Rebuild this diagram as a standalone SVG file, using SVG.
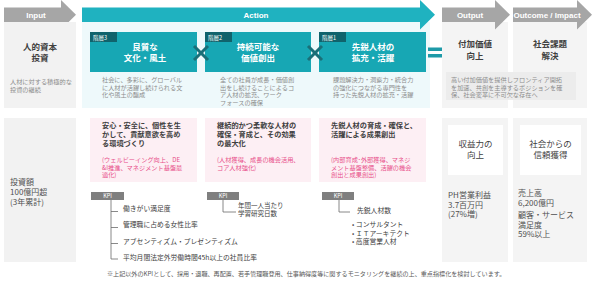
<svg xmlns="http://www.w3.org/2000/svg" width="593" height="282" viewBox="0 0 593 282">
<style>
text{font-family:"Noto Sans CJK JP","Liberation Sans",sans-serif;}
.hd{font-family:"Liberation Sans",sans-serif;font-weight:bold;font-size:8px;fill:#fff;text-anchor:middle;}
.ttl{font-size:8.5px;font-weight:bold;fill:#404040;text-anchor:middle;}
.wt{font-size:8.5px;font-weight:bold;fill:#fff;text-anchor:middle;}
.tab{font-size:5.5px;fill:#fff;}
.ds{font-size:6.2px;fill:#8c8c8c;}
.pm{font-size:7.2px;font-weight:bold;fill:#404040;}
.pk{font-size:6.2px;fill:#e8508a;}
.kp{font-size:6.8px;fill:#404040;}
.bd{font-size:8px;fill:#505050;}
.ln{stroke:#6b6b6b;stroke-width:0.8;fill:none;}
.x{stroke:#1a6f78;stroke-width:3;stroke-linecap:butt;}
</style>

<g id="input">
<path d="M4,7.5 H61 V0 L76,14.75 L61,29.5 V22 H4 Z" fill="#a6a6a6"/>
<text class="hd" x="36" y="17.5">Input</text>
<rect x="4" y="22" width="72" height="86" fill="#f2f2f2"/>
<text class="ttl" x="40" y="50">人的資本</text>
<text class="ttl" x="40" y="61">投資</text>
<text class="ds" x="10" y="84">人材に対する積極的な</text>
<text class="ds" x="10" y="92">投資の継続</text>
<rect x="4" y="118" width="72" height="144" fill="#f2f2f2"/>
<text class="bd" x="10" y="185">投資額</text>
<text class="bd" x="10" y="195">100億円超</text>
<text class="bd" x="10" y="205">(3年累計)</text>
</g>

<g id="action">
<rect x="82" y="22" width="348" height="86" fill="#eef9fb"/>
<path d="M82,7.5 H420 V0 L435,14.75 L420,29.5 V22 H82 Z" fill="#1fb2c0"/>
<text class="hd" x="256" y="17.5">Action</text>
</g>

<g id="level3">
<rect x="90" y="32" width="107" height="40" fill="#17a7b4"/>
<rect x="90" y="32" width="27" height="10" fill="#10636c"/>
<text class="tab" x="93" y="39.5">階層3</text>
<text class="wt" x="145" y="49.5">良質な</text>
<text class="wt" x="145" y="60.5">文化・風土</text>
<text class="ds" x="102" y="82">社会に、多彩に、グローバル</text>
<text class="ds" x="102" y="89.5">に人材が活躍し続けられる文</text>
<text class="ds" x="102" y="97">化や風土の醸成</text>
</g>

<g id="level2">
<rect x="205" y="32" width="106" height="40" fill="#17a7b4"/>
<rect x="205" y="32" width="27" height="10" fill="#10636c"/>
<text class="tab" x="208" y="39.5">階層2</text>
<text class="wt" x="258" y="49.5">持続可能な</text>
<text class="wt" x="258" y="60.5">価値創出</text>
<text class="ds" x="220" y="82">全ての社員が成長・価値創</text>
<text class="ds" x="220" y="89.5">出をし続けることによるコ</text>
<text class="ds" x="220" y="97">ア人材の拡充、ワーク</text>
<text class="ds" x="220" y="104.5">フォースの確保</text>
</g>

<g id="level1">
<rect x="319" y="32" width="107" height="40" fill="#17a7b4"/>
<rect x="319" y="32" width="27" height="10" fill="#10636c"/>
<text class="tab" x="322" y="39.5">階層1</text>
<text class="wt" x="373" y="49.5">先鋭人材の</text>
<text class="wt" x="373" y="60.5">拡充・活躍</text>
<text class="ds" x="333" y="82">課題解決力・洞察力・統合力</text>
<text class="ds" x="333" y="89.5">の強化につながる専門性を</text>
<text class="ds" x="333" y="97">持った先鋭人材の拡充・活躍</text>
</g>

<g id="operators">
<line class="x" x1="194" y1="46" x2="208" y2="60"/>
<line class="x" x1="208" y1="46" x2="194" y2="60"/>
<line class="x" x1="308" y1="46" x2="322" y2="60"/>
<line class="x" x1="322" y1="46" x2="308" y2="60"/>
<rect x="428" y="47.5" width="18" height="3.5" fill="#1e9aa8"/>
<rect x="428" y="54" width="18" height="3.5" fill="#1e9aa8"/>
</g>

<g id="output">
<rect x="442" y="22" width="66" height="86" fill="#f4f4f4"/>
<path d="M442,7.5 H495 V0 L510,14.75 L495,29.5 V22 H442 Z" fill="#a6a6a6"/>
<text class="hd" x="470" y="17.5">Output</text>
<text class="ttl" x="475" y="47">付加価値</text>
<text class="ttl" x="475" y="59">向上</text>
<rect x="442" y="118" width="66" height="144" fill="#f4f4f4"/>
<rect x="448" y="125" width="55" height="50" fill="#ffffff"/>
<text class="ttl" x="475.5" y="147" style="font-weight:normal">収益力の</text>
<text class="ttl" x="475.5" y="158" style="font-weight:normal">向上</text>
<text class="bd" x="448" y="198">PH営業利益</text>
<text class="bd" x="448" y="207.5">3.7百万円</text>
<text class="bd" x="448" y="217">(27%増)</text>
</g>

<g id="outcome">
<rect x="513" y="22" width="74" height="86" fill="#f4f4f4"/>
<path d="M513,7.5 H577 V0 L592,14.75 L577,29.5 V22 H513 Z" fill="#a6a6a6"/>
<text class="hd" x="547" y="17.5">Outcome / Impact</text>
<text class="ttl" x="550" y="47">社会課題</text>
<text class="ttl" x="550" y="59">解決</text>
<rect x="513" y="118" width="74" height="144" fill="#f4f4f4"/>
<rect x="520" y="125" width="61" height="50" fill="#ffffff"/>
<text class="ttl" x="550.5" y="147" style="font-weight:normal">社会からの</text>
<text class="ttl" x="550.5" y="158" style="font-weight:normal">信頼獲得</text>
<text class="bd" x="518" y="196">売上高</text>
<text class="bd" x="518" y="206">6,200億円</text>
<text class="bd" x="518" y="218">顧客・サービス</text>
<text class="bd" x="518" y="227.5">満足度</text>
<text class="bd" x="518" y="237">59%以上</text>
</g>

<g id="output-note">
<rect x="446" y="72" width="130" height="28" fill="#ececec"/>
<text class="ds" x="451" y="82">高い付加価値を提供しフロンティア開拓</text>
<text class="ds" x="451" y="89.5">を加速、共創を主導するポジションを確</text>
<text class="ds" x="451" y="97">保、社会変革に不可欠な存在へ</text>
</g>

<g id="measure3">
<rect x="90" y="118" width="107" height="64" fill="#fdeff4"/>
<text class="pm" x="102" y="127.5">安心・安全に、個性を生</text>
<text class="pm" x="102" y="136.5">かして、貢献意欲を高め</text>
<text class="pm" x="102" y="145.5">る環境づくり</text>
<text class="pk" x="102" y="162">(ウェルビーイング向上、DE</text>
<text class="pk" x="102" y="169.5">&amp;I推進、マネジメント基盤最</text>
<text class="pk" x="102" y="177">適化)</text>
</g>

<g id="measure2">
<rect x="205" y="118" width="106" height="64" fill="#fdeff4"/>
<text class="pm" x="217" y="127.5">継続的かつ柔軟な人材の</text>
<text class="pm" x="217" y="136.5">確保・育成と、その効果</text>
<text class="pm" x="217" y="145.5">の最大化</text>
<text class="pk" x="217" y="162">(人材獲得、成長の機会活用、</text>
<text class="pk" x="217" y="169.5">コア人材強化)</text>
</g>

<g id="measure1">
<rect x="319" y="118" width="107" height="64" fill="#fdeff4"/>
<text class="pm" x="331" y="127.5">先鋭人材の育成・確保と、</text>
<text class="pm" x="331" y="136.5">活躍による成果創出</text>
<text class="pk" x="331" y="162">(内部育成･外部獲得、マネジ</text>
<text class="pk" x="331" y="169.5">メント基盤整備、活躍の機会</text>
<text class="pk" x="331" y="177">創出と成果創出)</text>
</g>

<g id="kpi3">
<rect x="91" y="192" width="33" height="8" fill="#7f7f7f"/>
<text class="tab" x="107.5" y="198.3" text-anchor="middle">KPI</text>
<text class="kp" x="123" y="211">働きがい満足度</text>
<text class="kp" x="123" y="227">管理職に占める女性比率</text>
<text class="kp" x="123" y="243.5">アブセンティズム・プレゼンティズム</text>
<text class="kp" x="123" y="260">平均月間法定外労働時間45h以上の社員比率</text>
</g>

<g id="kpi2">
<rect x="207" y="192" width="32" height="8" fill="#7f7f7f"/>
<text class="tab" x="223" y="198.3" text-anchor="middle">KPI</text>
<text class="kp" x="238" y="207.5" style="font-size:6.5px">年間一人当たり</text>
<text class="kp" x="238" y="216" style="font-size:6.5px">学習研究日数</text>
</g>

<g id="kpi1">
<rect x="322" y="192" width="32" height="8" fill="#7f7f7f"/>
<text class="tab" x="338" y="198.3" text-anchor="middle">KPI</text>
<text class="kp" x="357" y="212.5">先鋭人材数</text>
<text class="kp" x="352" y="227">• コンサルタント</text>
<text class="kp" x="352" y="235.5">• ＩＴアーキテクト</text>
<text class="kp" x="352" y="244">• 高度営業人材</text>
</g>

<g id="connectors">
<path class="ln" d="M111,200 V259 H118 M111,211.5 H118 M111,227.5 H118 M111,243.5 H118"/>
<path class="ln" d="M223,200 V212 H236"/>
<path class="ln" d="M339,200 V212 H350"/>
</g>

<text x="107" y="276" style="font-size:6.1px;fill:#595959">※上記以外のKPIとして、採用・退職、再配置、若手管理職登用、仕事納得度等に関するモニタリングを継続の上、重点指標化を検討しています。</text>
</svg>
